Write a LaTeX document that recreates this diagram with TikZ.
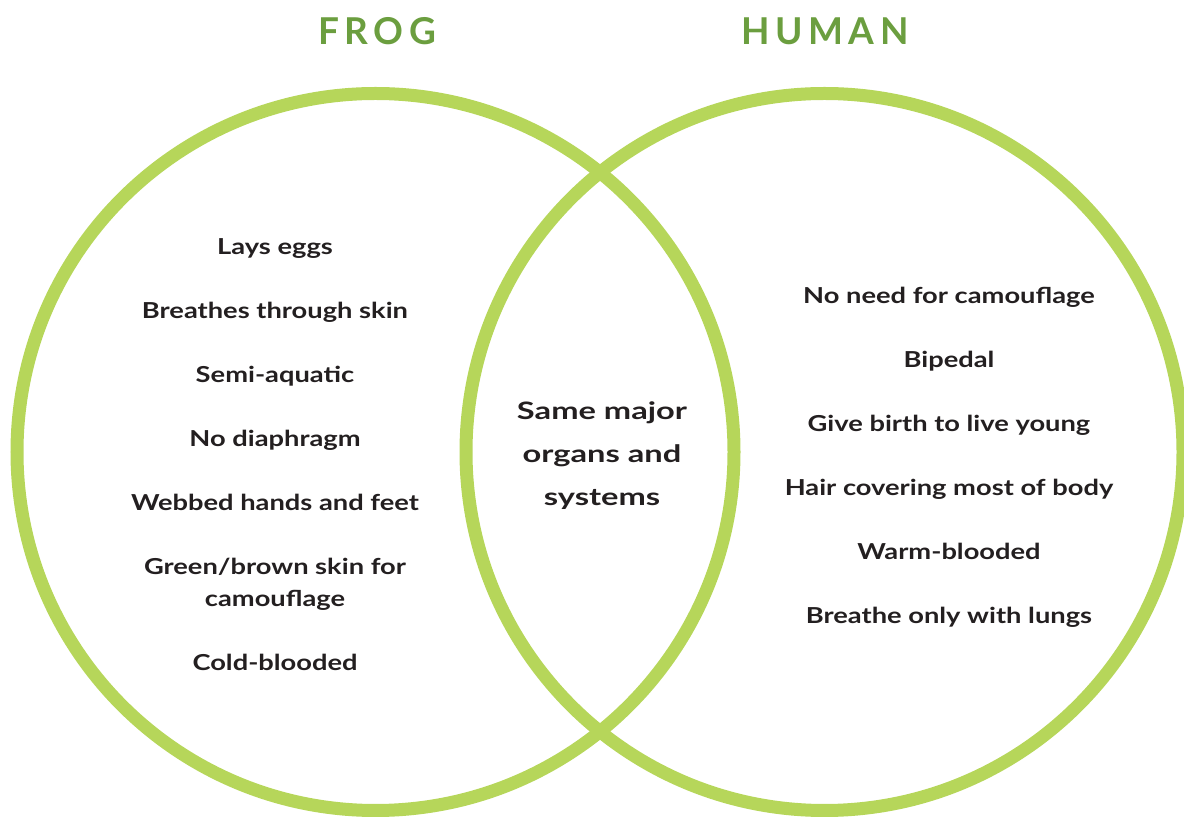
\documentclass[tikz,border=0pt]{standalone}
\usepackage{fontspec}
\setmainfont{Lato}
\usepackage{tikz}
\definecolor{ringgreen}{HTML}{B6D65A}
\definecolor{titlegreen}{HTML}{6B9E3F}
\definecolor{inkdark}{HTML}{231F20}

\begin{document}
\begin{tikzpicture}[x=0.5pt,y=-0.5pt]
\tikzstyle{ring}=[draw=ringgreen,line width=6.5pt]
\tikzstyle{fact}=[text=inkdark,anchor=base,align=center,inner sep=0pt,font=\bfseries\fontsize{11}{16}\selectfont\addfontfeature{FakeStretch=1.24}]
\tikzstyle{shared}=[fact,font=\bfseries\fontsize{12}{21.5}\selectfont\addfontfeature{FakeStretch=1.36}]
\tikzstyle{title}=[text=titlegreen,anchor=base,inner sep=0pt,font=\bfseries\fontsize{18.5}{20}\selectfont\addfontfeature{LetterSpace=15}]
\useasboundingbox (0,0) rectangle (1184,817);
% the two sets
\draw[ring] (375.5,452) circle (358.5);
\draw[ring] (824.5,452) circle (358.5);
% headings
\node[title] (frog) at (377,45) {FROG};
\node[title] (human) at (825,45) {HUMAN};
% frog only
\node[fact] (eggs) at (275,255) {Lays eggs};
\node[fact] (skin) at (275,319) {Breathes through skin};
\node[fact] (aquatic) at (275,383) {Semi-aquatic};
\node[fact] (diaphragm) at (275,447) {No diaphragm};
\node[fact] (webbed) at (275,511) {Webbed hands and feet};
\node[fact] (camo) at (275,607) {Green/brown skin for\\camouflage};
\node[fact] (cold) at (275,671) {Cold-blooded};
% both
\node[shared] (organs) at (602,506) {Same major\\organs and\\systems};
% human only
\node[fact] (nocamo) at (949,304) {No need for camouflage};
\node[fact] (bipedal) at (949,368) {Bipedal};
\node[fact] (birth) at (949,432) {Give birth to live young};
\node[fact] (hair) at (949,496) {Hair covering most of body};
\node[fact] (warm) at (949,560) {Warm-blooded};
\node[fact] (lungs) at (949,624) {Breathe only with lungs};
\end{tikzpicture}
\end{document}
